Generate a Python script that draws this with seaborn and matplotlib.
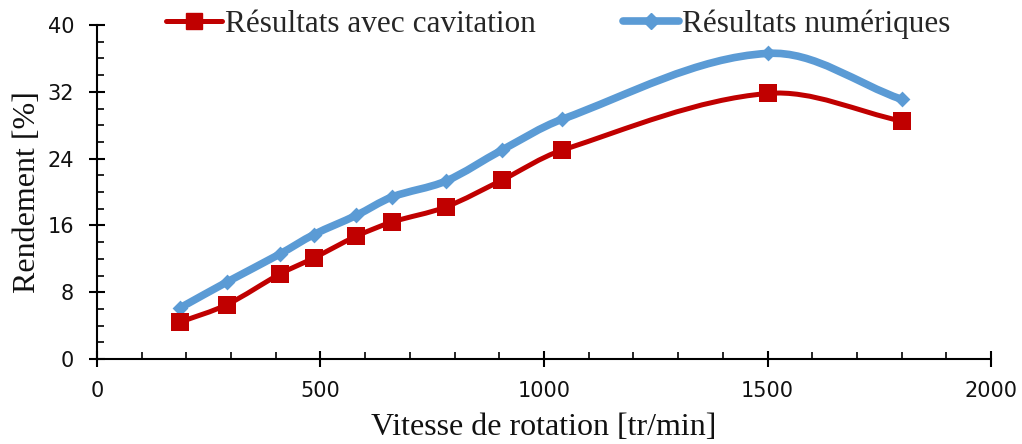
import numpy as np
import pandas as pd
import seaborn as sns
import matplotlib
matplotlib.use("Agg")
import matplotlib.pyplot as plt
from matplotlib.path import Path
from matplotlib.patches import PathPatch
from matplotlib.lines import Line2D
from matplotlib.ticker import MultipleLocator
from matplotlib.transforms import IdentityTransform

# Rotation speed [tr/min]
vitesse = [185, 290, 410, 485, 580, 660, 780, 905, 1040, 1500, 1800]
# Efficiency [%]
rend_cavitation = [4.4, 6.5, 10.2, 12.1, 14.7, 16.4, 18.2, 21.4, 25.0, 31.8, 28.5]
rend_numerique = [6.1, 9.2, 12.6, 14.9, 17.2, 19.4, 21.3, 25.0, 28.7, 36.6, 31.1]

series_names = ["Résultats avec cavitation", "Résultats numériques"]
RED = "#C00000"
BLUE = "#5B9BD5"

df = pd.DataFrame({
    "vitesse": vitesse * 2,
    "rendement": rend_cavitation + rend_numerique,
    "serie": [series_names[0]] * len(vitesse) + [series_names[1]] * len(vitesse),
})

sns.set_theme(style="white")
plt.rcParams["font.family"] = ["DejaVu Sans"]

fig = plt.figure(figsize=(10.22, 4.44), dpi=100)
ax = fig.add_axes([0.0949, 0.1914, 0.8748, 0.7523])
ax.set_xlim(0, 2000)
ax.set_ylim(0, 40)


def smooth_path(xs, ys):
    """Smoothed cubic Bezier path through the points, built in display space."""
    pts = ax.transData.transform(np.column_stack([xs, ys]).astype(float))
    verts = [pts[0]]
    codes = [Path.MOVETO]
    n = len(pts)
    for i in range(n - 1):
        p0 = pts[i - 1] if i > 0 else pts[i]
        p1 = pts[i]
        p2 = pts[i + 1]
        p3 = pts[i + 2] if i + 2 < n else pts[i + 1]
        d12 = np.linalg.norm(p2 - p1)
        t1 = p2 - p0
        t2 = p3 - p1
        n1 = np.linalg.norm(t1)
        n2 = np.linalg.norm(t2)
        c1 = p1 + (t1 / n1 if n1 else 0) * d12 / 3.0
        c2 = p2 - (t2 / n2 if n2 else 0) * d12 / 3.0
        verts += [c1, c2, p2]
        codes += [Path.CURVE4] * 3
    return Path(verts, codes)


styles = {
    series_names[0]: dict(color=RED, lw=3.6, marker="s", ms=12.5),
    series_names[1]: dict(color=BLUE, lw=5.5, marker="D", ms=9),
}

for name, yvals in [(series_names[1], rend_numerique), (series_names[0], rend_cavitation)]:
    st = styles[name]
    patch = PathPatch(smooth_path(vitesse, yvals), facecolor="none",
                      edgecolor=st["color"], lw=st["lw"], capstyle="round",
                      joinstyle="round", transform=IdentityTransform(), zorder=2)
    ax.add_patch(patch)

sub = df[df["serie"] == series_names[1]]
sns.scatterplot(data=sub, x="vitesse", y="rendement", ax=ax, marker="D",
                s=styles[series_names[1]]["ms"] ** 2 * 0.8, color=BLUE,
                edgecolor=BLUE, linewidth=0, zorder=3, legend=False)
sub = df[df["serie"] == series_names[0]]
sns.scatterplot(data=sub, x="vitesse", y="rendement", ax=ax, marker="s",
                s=styles[series_names[0]]["ms"] ** 2, color=RED,
                edgecolor=RED, linewidth=0, zorder=4, legend=False)

ax.set_xlim(0, 2000)
ax.set_ylim(0, 40)
ax.xaxis.set_major_locator(MultipleLocator(500))
ax.xaxis.set_minor_locator(MultipleLocator(100))
ax.yaxis.set_major_locator(MultipleLocator(8))
ax.yaxis.set_minor_locator(MultipleLocator(2))

for side in ["top", "right"]:
    ax.spines[side].set_visible(False)
for side in ["left", "bottom"]:
    ax.spines[side].set_color("black")
    ax.spines[side].set_linewidth(1.5)

ax.tick_params(which="major", direction="inout", length=11, width=1.5,
               color="black", labelsize=15, labelcolor="#111111")
ax.tick_params(which="minor", direction="in", length=5, width=1.2, color="black")
ax.tick_params(axis="x", which="major", pad=10)
ax.tick_params(axis="y", which="major", pad=11)
ax.tick_params(bottom=True, left=True, which="both")

serif = ["Liberation Serif", "DejaVu Serif"]
ax.set_xlabel("Vitesse de rotation [tr/min]", fontsize=23, family=serif,
              color="#111111", labelpad=9)
ax.set_ylabel("Rendement [%]", fontsize=23, family=serif, color="#111111",
              labelpad=4)

handles = [
    Line2D([], [], color=RED, lw=3.6, marker="s", ms=12, mec=RED, mfc=RED),
    Line2D([], [], color=BLUE, lw=5.5, marker="D", ms=8, mec=BLUE, mfc=BLUE),
]
fig.legend(handles, series_names, loc="center", bbox_to_anchor=(0.546, 0.946),
           ncol=2, frameon=False, prop={"family": serif, "size": 22.5},
           handlelength=1.8, handletextpad=0.08, columnspacing=2.8,
           borderpad=0.1)

fig.savefig("out.png", dpi=100)
